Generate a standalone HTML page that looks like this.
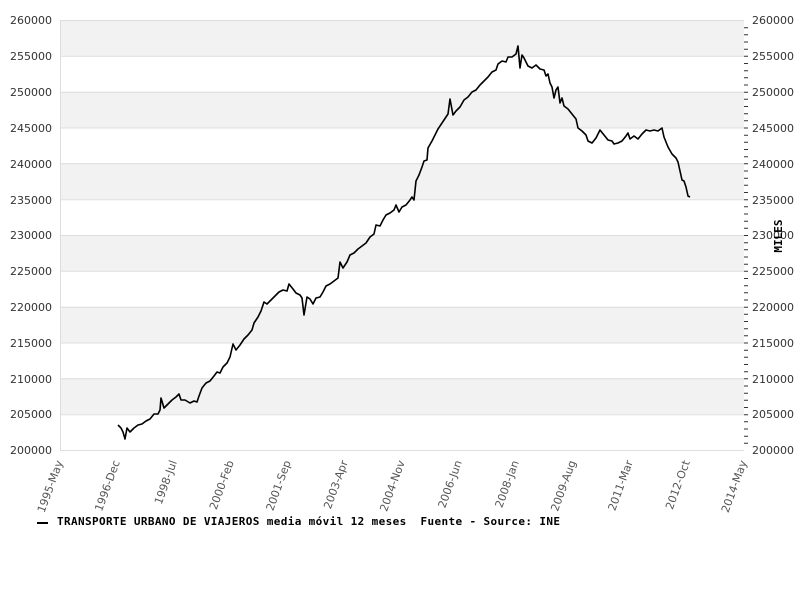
<!DOCTYPE html>
<html><head><meta charset="utf-8"><style>body{margin:0;background:#fff}svg{display:block}</style></head><body>
<svg width="800" height="600" xmlns="http://www.w3.org/2000/svg" font-family="DejaVu Sans, sans-serif" font-size="11" fill="#333">
<rect width="800" height="600" fill="#fff"/>
<g fill="#f2f2f2">
<rect x="60" y="20" width="684" height="35.8"/>
<rect x="60" y="91.7" width="684" height="35.8"/>
<rect x="60" y="163.3" width="684" height="35.8"/>
<rect x="60" y="235" width="684" height="35.8"/>
<rect x="60" y="306.7" width="684" height="35.8"/>
<rect x="60" y="378.3" width="684" height="35.8"/>
</g>
<g stroke="#ddd" stroke-width="1">
<line x1="60" x2="744" y1="20.5" y2="20.5"/><line x1="60" x2="744" y1="56.3" y2="56.3"/><line x1="60" x2="744" y1="92.2" y2="92.2"/><line x1="60" x2="744" y1="128" y2="128"/><line x1="60" x2="744" y1="163.8" y2="163.8"/><line x1="60" x2="744" y1="199.7" y2="199.7"/><line x1="60" x2="744" y1="235.5" y2="235.5"/><line x1="60" x2="744" y1="271.3" y2="271.3"/><line x1="60" x2="744" y1="307.2" y2="307.2"/><line x1="60" x2="744" y1="343" y2="343"/><line x1="60" x2="744" y1="378.8" y2="378.8"/><line x1="60" x2="744" y1="414.7" y2="414.7"/>
<line x1="60" x2="744" y1="450.5" y2="450.5"/><line x1="60.5" x2="60.5" y1="20" y2="450"/>
</g>
<path stroke="#333" stroke-width="1" d="M744 27.7h4M744 34.8h4M744 42h4M744 49.2h4M744 56.3h4M744 63.5h4M744 70.7h4M744 77.8h4M744 85h4M744 92.2h4M744 99.3h4M744 106.5h4M744 113.7h4M744 120.8h4M744 128h4M744 135.2h4M744 142.3h4M744 149.5h4M744 156.7h4M744 163.8h4M744 171h4M744 178.2h4M744 185.3h4M744 192.5h4M744 199.7h4M744 206.8h4M744 214h4M744 221.2h4M744 228.3h4M744 235.5h4M744 242.7h4M744 249.8h4M744 257h4M744 264.2h4M744 271.3h4M744 278.5h4M744 285.7h4M744 292.8h4M744 300h4M744 307.2h4M744 314.3h4M744 321.5h4M744 328.7h4M744 335.8h4M744 343h4M744 350.2h4M744 357.3h4M744 364.5h4M744 371.7h4M744 378.8h4M744 386h4M744 393.2h4M744 400.3h4M744 407.5h4M744 414.7h4M744 421.8h4M744 429h4M744 436.2h4M744 443.3h4"/>
<g text-anchor="end">
<text x="52" y="24">260000</text><text x="52" y="60">255000</text><text x="52" y="96">250000</text><text x="52" y="132">245000</text><text x="52" y="168">240000</text><text x="52" y="204">235000</text><text x="52" y="239">230000</text><text x="52" y="275">225000</text><text x="52" y="311">220000</text><text x="52" y="347">215000</text><text x="52" y="383">210000</text><text x="52" y="418">205000</text><text x="52" y="454">200000</text>
</g>
<g>
<text x="752" y="24">260000</text><text x="752" y="60">255000</text><text x="752" y="96">250000</text><text x="752" y="132">245000</text><text x="752" y="168">240000</text><text x="752" y="204">235000</text><text x="752" y="239">230000</text><text x="752" y="275">225000</text><text x="752" y="311">220000</text><text x="752" y="347">215000</text><text x="752" y="383">210000</text><text x="752" y="418">205000</text><text x="752" y="454">200000</text>
</g>
<text transform="translate(782,236) rotate(-90)" font-family="DejaVu Sans Mono, monospace" font-weight="bold" font-size="11" fill="#000" text-anchor="middle">MILES</text>
<g text-anchor="end" fill="#555">
<text transform="translate(63,462) rotate(-70)">1995-May</text>
<text transform="translate(120,462) rotate(-70)">1996-Dec</text>
<text transform="translate(177,462) rotate(-70)">1998-Jul</text>
<text transform="translate(234,462) rotate(-70)">2000-Feb</text>
<text transform="translate(291,462) rotate(-70)">2001-Sep</text>
<text transform="translate(348,462) rotate(-70)">2003-Apr</text>
<text transform="translate(405,462) rotate(-70)">2004-Nov</text>
<text transform="translate(462,462) rotate(-70)">2006-Jun</text>
<text transform="translate(519,462) rotate(-70)">2008-Jan</text>
<text transform="translate(576,462) rotate(-70)">2009-Aug</text>
<text transform="translate(633,462) rotate(-70)">2011-Mar</text>
<text transform="translate(690,462) rotate(-70)">2012-Oct</text>
<text transform="translate(747,462) rotate(-70)">2014-May</text>
</g>
<polyline fill="none" stroke="#000" stroke-width="1.6" stroke-linejoin="round" points="118,425 121,428 123,432 125,439 127,428 130,432 134,428 138,425 142,424 146,421 150,419 154,414 158,414 160,410 161,398 164,408 168,404 172,400 176,397 179,394 181,400 185,400 190,403 194,401 197,402 199,396 202,388 206,383 210,381 214,376 217,372 220,373 223,367 227,363 230,357 233,344 236,350 240,345 244,339 248,335 252,330 254,323 258,317 261,311 264,302 267,304 271,300 275,296 279,292 283,290 287,291 289,284 293,289 296,293 300,295 302,298 304,315 307,297 310,299 313,304 316,298 320,297 323,292 326,286 330,284 334,281 338,278 340,262 343,268 347,262 350,255 354,253 358,249 362,246 366,243 370,237 374,234 376,225 380,226 383,220 386,215 390,213 394,210 396,205 399,212 402,207 406,205 410,200 412,197 414,200 416,181 419,175 422,167 424,161 427,160 428,148 432,141 435,135 438,129 442,123 446,117 448,114 450,99 453,115 456,111 460,107 464,100 468,97 472,92 476,90 480,85 484,81 488,77 492,72 496,70 498,64 502,61 506,62 508,57 512,57 516,54 518,46 520,68 522,55 524,58 528,66 532,68 536,65 540,69 544,70 546,76 548,74 550,83 552,87 554,98 556,90 558,87 560,103 562,98 564,106 568,109 572,114 576,119 578,128 582,131 586,135 588,141 592,143 596,138 600,130 604,135 608,140 612,141 614,144 618,143 622,141 626,136 628,133 630,139 634,136 638,139 642,134 646,130 650,131 654,130 658,131 662,128 664,137 668,147 672,154 676,158 678,162 680,171 682,180 684,181 686,187 688,196 690,197"/>
<rect x="37" y="522" width="11" height="2" fill="#000"/>
<text x="57" y="525" xml:space="preserve" font-family="DejaVu Sans Mono, monospace" font-weight="bold" font-size="11" fill="#000" textLength="503" lengthAdjust="spacing">TRANSPORTE URBANO DE VIAJEROS media móvil 12 meses  Fuente - Source: INE</text>
</svg>
</body></html>
